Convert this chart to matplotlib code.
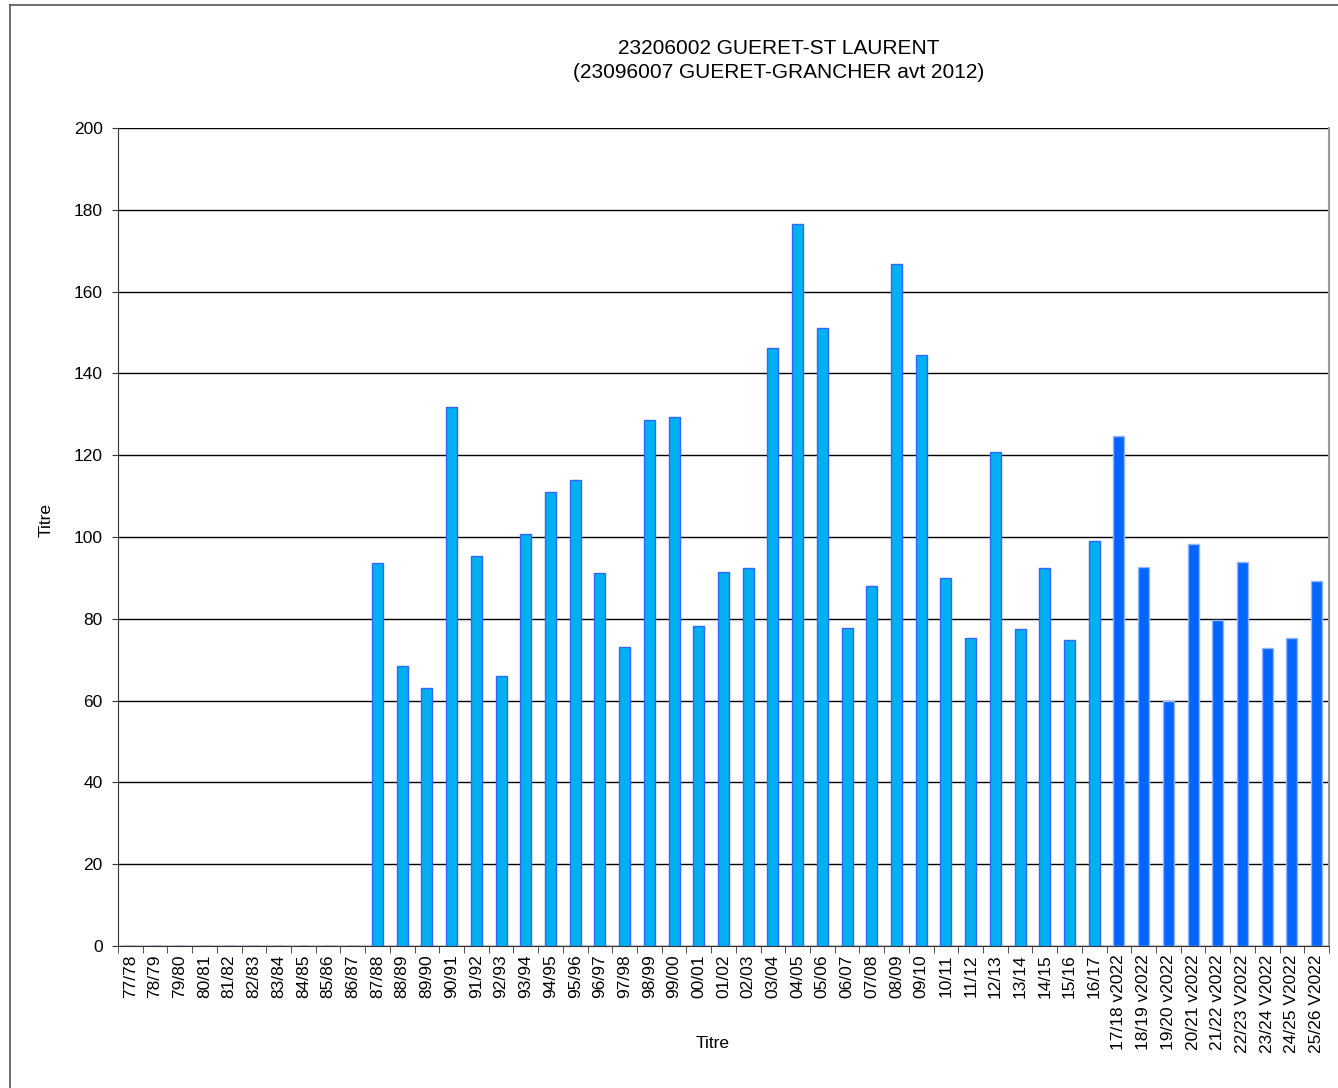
import matplotlib
matplotlib.use('Agg')
import matplotlib.pyplot as plt
from matplotlib.lines import Line2D

plt.rcParams['font.family'] = ['Liberation Sans', 'DejaVu Sans']

# Seasons and values
seasons_old = ['77/78', '78/79', '79/80', '80/81', '81/82', '82/83', '83/84', '84/85',
               '85/86', '86/87', '87/88', '88/89', '89/90', '90/91', '91/92', '92/93',
               '93/94', '94/95', '95/96', '96/97', '97/98', '98/99', '99/00', '00/01',
               '01/02', '02/03', '03/04', '04/05', '05/06', '06/07', '07/08', '08/09',
               '09/10', '10/11', '11/12', '12/13', '13/14', '14/15', '15/16', '16/17']
values_old = [0, 0, 0, 0, 0, 0, 0, 0, 0, 0,
              93.7, 68.5, 63.1, 131.8, 95.4, 66.1, 100.8, 111.0, 114.0, 91.1,
              73.2, 128.5, 129.4, 78.3, 91.5, 92.4, 146.3, 176.6, 151.2, 77.8,
              88.1, 166.7, 144.4, 90.0, 75.4, 120.9, 77.4, 92.4, 74.9, 98.9]

seasons_new = ['17/18 v2022', '18/19 v2022', '19/20 v2022', '20/21 v2022', '21/22 v2022',
               '22/23 V2022', '23/24 V2022', '24/25 V2022', '25/26 V2022']
values_new = [124.8, 92.6, 59.8, 98.3, 79.8, 94.0, 72.9, 75.3, 89.2]

labels = seasons_old + seasons_new
x_old = list(range(len(seasons_old)))
x_new = list(range(len(seasons_old), len(labels)))

W, H = 1338, 1088
fig = plt.figure(figsize=(W / 100, H / 100), dpi=100)
ax = fig.add_axes([118 / W, 1 - 946 / H, 1211 / W, 818 / H])

# frame lines around the chart (left and top visible)
fig.add_artist(Line2D([10 / W, 10 / W], [0, 1 - 5 / H], transform=fig.transFigure,
                      color='#555555', linewidth=1.2))
fig.add_artist(Line2D([10 / W, 1], [1 - 5 / H, 1 - 5 / H], transform=fig.transFigure,
                      color='#555555', linewidth=1.2))

ax.bar(x_old, values_old, width=0.45, color='#00B0F0', edgecolor='#3366FF',
       linewidth=1.0, zorder=3)
ax.bar(x_new, values_new, width=0.45, color='#0066FF', edgecolor='#99B3FF',
       linewidth=1.0, zorder=3)

ax.set_xlim(-0.5, len(labels) - 0.5)
ax.set_ylim(0, 200)
ax.set_yticks(range(0, 201, 20))
ax.yaxis.grid(True, color='black', linewidth=1.0, zorder=0)

ax.set_xticks(range(len(labels)))
ax.set_xticklabels(labels, rotation=90, fontsize=12.5)
ax.set_xticks([i - 0.5 for i in range(len(labels) + 1)], minor=True)
ax.tick_params(axis='x', which='major', length=0, pad=6)
ax.tick_params(axis='x', which='minor', length=5, direction='out', color='#333333')
ax.tick_params(axis='y', labelsize=12.5, length=4, direction='out', pad=7,
               color='#333333')

ax.spines['top'].set_visible(False)
ax.spines['right'].set_color('#999999')
ax.spines['right'].set_linewidth(1.5)
ax.spines['left'].set_color('#333333')
ax.spines['bottom'].set_color('#333333')

fig.text(46 / W, 1 - 520 / H, 'Titre', rotation=90, ha='center', va='center',
         fontsize=12.5)
fig.text(713 / W, 1 - 1043 / H, 'Titre', ha='center', va='center', fontsize=12.5)

fig.text(779 / W, 1 - 48 / H, '23206002 GUERET-ST LAURENT',
         ha='center', va='center', fontsize=15)
fig.text(779 / W, 1 - 73 / H, '(23096007 GUERET-GRANCHER avt 2012)',
         ha='center', va='center', fontsize=15)

plt.savefig('out.png', dpi=100)
